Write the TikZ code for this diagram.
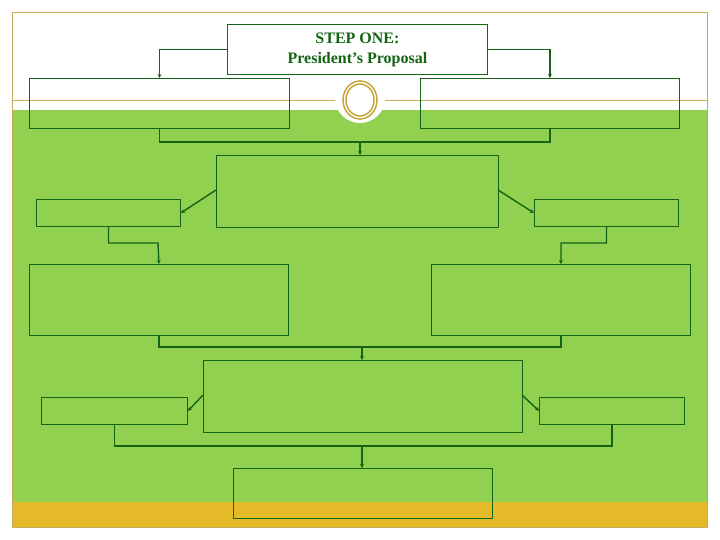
\documentclass[tikz,border=0pt]{standalone}
\usepackage{fontspec}
\setmainfont{Liberation Serif}
\usetikzlibrary{arrows.meta}
\begin{document}
\begin{tikzpicture}[x=1pt,y=-1pt,
  box/.style={draw=dkg,line width=0.9pt,inner sep=0pt,anchor=north west},
  con/.style={draw=dkg,line width=1.4pt},
  arr/.style={con,-{Stealth[length=4pt,width=4pt]}}]
\definecolor{dkg}{RGB}{20,100,20}
\definecolor{lg}{RGB}{146,208,80}
\definecolor{gold}{RGB}{228,186,40}
\definecolor{tan}{RGB}{196,172,90}
\definecolor{ring}{RGB}{200,165,60}
\useasboundingbox (0,0) rectangle (720,540);
\fill[white] (0,0) rectangle (720,540);
\fill[lg] (12,110) rectangle (707,502);
\fill[gold] (12,502) rectangle (707,527);
\draw[tan,line width=0.8pt] (12,12) rectangle (707,527);
\draw[tan,line width=0.8pt] (12,100) -- (337,100) (385,100) -- (707,100);
\fill[white] (360,98) circle (25);
\draw[ring,line width=1.5pt] (360,100) ellipse (17 and 19);
\draw[ring,line width=1.5pt] (360,100) ellipse (14 and 16);
\node[box,fill=white,minimum width=260,minimum height=50,text=dkg,font=\bfseries\fontsize{16}{20}\selectfont,align=center] (top) at (227,24) {STEP ONE:\\President’s Proposal};
\node[box,minimum width=260,minimum height=50] (l1) at (29,78) {};
\node[box,minimum width=259,minimum height=50] (r1) at (420,78) {};
\node[box,minimum width=282,minimum height=72] (m1) at (216,155) {};
\node[box,minimum width=144,minimum height=27] (l2) at (36,199) {};
\node[box,minimum width=144,minimum height=27] (r2) at (534,199) {};
\node[box,minimum width=259,minimum height=71] (l3) at (29,264) {};
\node[box,minimum width=259,minimum height=71] (r3) at (431,264) {};
\node[box,minimum width=319,minimum height=72] (m2) at (203,360) {};
\node[box,minimum width=146,minimum height=27] (l4) at (41,397) {};
\node[box,minimum width=145,minimum height=27] (r4) at (539,397) {};
\node[box,minimum width=259,minimum height=50] (b) at (233,468) {};
\draw[arr] (top.west) -| (l1.north);
\draw[arr] (top.east) -| (r1.north);
\coordinate (j1) at (360,142);
\draw[con] (l1.south) |- (j1) -| (r1.south);
\draw[arr] (j1) -- (360,155);
\draw[arr] (216,190) -- (l2.east);
\draw[arr] (498,190) -- (r2.west);
\draw[arr] (l2.south) |- (158,243) -- (l3.north);
\draw[arr] (r2.south) |- (561,243) -- (r3.north);
\coordinate (j2) at (362,347);
\draw[con] (l3.south) |- (j2) -| (r3.south);
\draw[arr] (j2) -- (362,360);
\draw[arr] (203,395) -- (l4.east);
\draw[arr] (522,395) -- (r4.west);
\coordinate (j3) at (362,446);
\draw[con] (l4.south) |- (j3) -| (r4.south);
\draw[arr] (j3) -- (362,468);
\end{tikzpicture}
\end{document}
